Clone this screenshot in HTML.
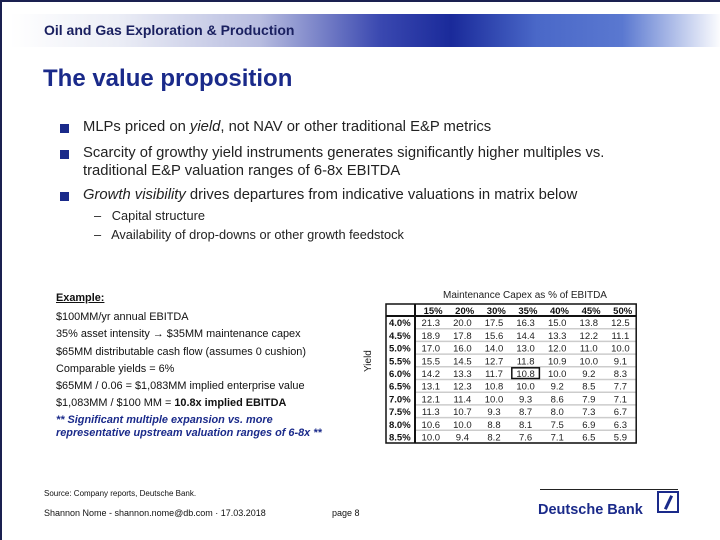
<!DOCTYPE html>
<html><head><meta charset="utf-8"><style>
body{margin:0;width:720px;height:540px;overflow:hidden;background:#fff;font-family:"Liberation Sans",sans-serif;}
#slide{position:absolute;left:0;top:0;width:720px;height:540px;border-left:2px solid #1a2050;border-top:2px solid #1a2050;box-sizing:border-box;}
.abs{position:absolute;white-space:nowrap;}
#band{position:absolute;left:8px;top:12px;width:712px;height:33px;background:linear-gradient(90deg,#fff 0%,#eceef6 15%,#b8bde0 35%,#3a48b0 52%,#1a2a9a 62%,#4a68c8 74%,#5a78d0 86%,#fff 100%);}
.bul{position:absolute;width:9px;height:9px;background:#1a2a8a;}
.t{font-size:14.8px;color:#222;}
.s{font-size:12.8px;color:#222;}
.ex{font-size:10.9px;color:#111;}
</style></head><body>
<div id="slide">
<div id="band"></div>
<div class="abs" style="left:42px;top:20px;font-size:14px;font-weight:bold;color:#1a2060;">Oil and Gas Exploration &amp; Production</div>
<div class="abs" style="left:41px;top:63px;font-size:24px;font-weight:bold;color:#1a2a8a;">The value proposition</div>

<div class="bul" style="left:58px;top:122px"></div>
<div class="abs t" style="left:81px;top:117px">MLPs priced on <i>yield</i>, not NAV or other traditional E&amp;P metrics</div>
<div class="bul" style="left:58px;top:148px"></div>
<div class="abs t" style="left:81px;top:143px;line-height:17.5px">Scarcity of growthy yield instruments generates significantly higher multiples vs.<br>traditional E&amp;P valuation ranges of 6-8x EBITDA</div>
<div class="bul" style="left:58px;top:190px"></div>
<div class="abs t" style="left:81px;top:185px"><i>Growth visibility</i> drives departures from indicative valuations in matrix below</div>
<div class="abs s" style="left:92px;top:206px">–&nbsp;&nbsp; Capital structure</div>
<div class="abs s" style="left:92px;top:225px">–&nbsp;&nbsp; Availability of drop-downs or other growth feedstock</div>

<div class="abs ex" style="left:54px;top:290px;font-weight:bold;text-decoration:underline">Example:</div>
<div class="abs ex" style="left:54px;top:309px">$100MM/yr annual EBITDA</div>
<div class="abs ex" style="left:54px;top:326px">35% asset intensity → $35MM maintenance capex</div>
<div class="abs ex" style="left:54px;top:344px">$65MM distributable cash flow (assumes 0 cushion)</div>
<div class="abs ex" style="left:54px;top:361px">Comparable yields = 6%</div>
<div class="abs ex" style="left:54px;top:378px">$65MM / 0.06 = $1,083MM implied enterprise value</div>
<div class="abs ex" style="left:54px;top:395px">$1,083MM / $100 MM = <b>10.8x implied EBITDA</b></div>
<div class="abs ex" style="left:54px;top:412px;font-weight:bold;font-style:italic;color:#1a2a8a;line-height:13px">** Significant multiple expansion vs. more<br>representative upstream valuation ranges of 6-8x **</div>

<div class="abs" style="left:441px;top:288px;font-size:10px;color:#222">Maintenance Capex as % of EBITDA</div>
<div class="abs" style="left:361px;top:370px;font-size:10px;color:#222;transform:rotate(-90deg);transform-origin:0 0">Yield</div>
<div id="tbl" style="position:absolute;left:383px;top:301px"></div>

<div class="abs" style="left:42px;top:487px;font-size:8px;color:#111">Source: Company reports, Deutsche Bank.</div>
<div class="abs" style="left:42px;top:506px;font-size:9px;color:#111">Shannon Nome - shannon.nome@db.com · 17.03.2018</div>
<div class="abs" style="left:330px;top:506px;font-size:9px;color:#111">page 8</div>
<div class="abs" style="left:538px;top:487px;width:138px;height:1px;background:#222"></div>
<div class="abs" style="left:536px;top:500px;font-size:14.5px;font-weight:bold;color:#1a2a8a">Deutsche Bank</div>
<div class="abs" style="left:655px;top:489px;width:18px;height:18px;border:2.5px solid #1a2a8a"><div style="position:absolute;left:8px;top:2px;width:3px;height:15px;background:#1a2a8a;transform:rotate(25deg)"></div></div>
</div>
<script>
const capexLabels=["15%","20%","30%","35%","40%","45%","50%"];
const yieldLabels=["4.0%","4.5%","5.0%","5.5%","6.0%","6.5%","7.0%","7.5%","8.0%","8.5%"];
const row40=[21.3,20.0,17.5,16.3,15.0,13.8,12.5];
const row45=[18.9,17.8,15.6,14.4,13.3,12.2,11.1];
const row50=[17.0,16.0,14.0,13.0,12.0,11.0,10.0];
const row55=[15.5,14.5,12.7,11.8,10.9,10.0,9.1];
const row60=[14.2,13.3,11.7,10.8,10.0,9.2,8.3];
const row65=[13.1,12.3,10.8,10.0,9.2,8.5,7.7];
const row70=[12.1,11.4,10.0,9.3,8.6,7.9,7.1];
const row75=[11.3,10.7,9.3,8.7,8.0,7.3,6.7];
const row80=[10.6,10.0,8.8,8.1,7.5,6.9,6.3];
const row85=[10.0,9.4,8.2,7.6,7.1,6.5,5.9];
const rows=[row40,row45,row50,row55,row60,row65,row70,row75,row80,row85];
const highlight=[4,3];
const cw=31.6,lw=29,hh=12,rh=12.7;
const host=document.getElementById('tbl');
const svgNS='http://www.w3.org/2000/svg';
const W=lw+cw*capexLabels.length,H=hh+rh*yieldLabels.length;
const svg=document.createElementNS(svgNS,'svg');
svg.setAttribute('width',W+2);svg.setAttribute('height',H+2);


host.appendChild(svg);
function mk(tag,attrs){const e=document.createElementNS(svgNS,tag);for(const k in attrs)e.setAttribute(k,attrs[k]);svg.appendChild(e);return e;}
const xCol=i=>1+lw+cw*i, yRow=j=>1+hh+rh*j;
for(let j=0;j<yieldLabels.length;j++){mk('line',{x1:lw+1,x2:W+1,y1:yRow(j+1),y2:yRow(j+1),stroke:'#ccc','stroke-width':1.5});}
for(let i=0;i<capexLabels.length;i++){
 const t=mk('text',{x:xCol(i)+cw-4,y:1+hh-2,'text-anchor':'end','font-size':'9.5','font-weight':'bold','font-family':'Liberation Sans, sans-serif',fill:'#111'});
 t.textContent=capexLabels[i];
 
 
}
for(let j=0;j<yieldLabels.length;j++){
 const t=mk('text',{x:4,y:yRow(j)+rh-2.5,'font-size':'9.5','font-weight':'bold','font-family':'Liberation Sans, sans-serif',fill:'#111'});
 t.textContent=yieldLabels[j];
 
 
 for(let i=0;i<capexLabels.length;i++){
  const c=mk('text',{x:xCol(i)+cw/2,y:yRow(j)+rh-2.5,'text-anchor':'middle','font-size':'9.5','font-family':'Liberation Sans, sans-serif',fill:'#222'});
  c.textContent=rows[j][i].toFixed(1);
  
  
 }
}
mk('rect',{x:1,y:1,width:W,height:H,fill:'none',stroke:'#111','stroke-width':1.5});
mk('line',{x1:1,x2:W+1,y1:yRow(0),y2:yRow(0),stroke:'#111','stroke-width':2});
mk('line',{x1:xCol(0),x2:xCol(0),y1:1,y2:H+1,stroke:'#111','stroke-width':2});
const hr=mk('rect',{x:xCol(highlight[1])+2,y:yRow(highlight[0])+1,width:cw-4,height:rh-2,fill:'none',stroke:'#111','stroke-width':1.5});


</script>
</body></html>
